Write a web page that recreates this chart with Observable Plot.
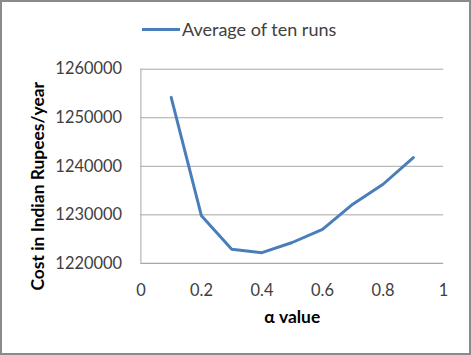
<!DOCTYPE html>
<html><head><meta charset="utf-8">
<script src="https://cdn.jsdelivr.net/npm/d3@7"></script>
<script src="https://cdn.jsdelivr.net/npm/@observablehq/plot@0.6"></script>
<style>
body{margin:0;background:#fff;}
#wrap{position:relative;width:471px;height:355px;box-sizing:border-box;border:2px solid #8a8a8a;background:#fff;overflow:hidden;font-family:Lato,"Open Sans",sans-serif;}
#chart{position:absolute;left:-2px;top:-2px;}
#legend{position:absolute;left:140px;top:16px;font-size:18px;color:#404040;display:flex;align-items:center;}
#legend span.sw{display:inline-block;width:38px;height:3px;background:#4a7ebb;margin-right:2px;}
</style></head>
<body><div id="wrap"><div id="chart"></div><div id="legend"><span class="sw"></span>Average of ten runs</div></div>
<script>
const alphaValues = [0.1,0.2,0.3,0.4,0.5,0.6,0.7,0.8,0.9];
const costValues = [1254200,1229800,1222900,1222200,1224300,1227000,1232200,1236300,1241800];
const xTicks = [0,0.2,0.4,0.6,0.8,1];
const yTicks = [1220000,1230000,1240000,1250000,1260000];
const seriesName = "Average of ten runs";
const data = alphaValues.map((a,i)=>({alpha:a,cost:costValues[i]}));
const chart = Plot.plot({
  width:471,height:355,
  marginLeft:141,marginRight:26,marginTop:69,marginBottom:91,
  style:{fontFamily:"Lato, 'Open Sans', sans-serif",fontSize:"16.5px",color:"#404040",background:"transparent"},
  x:{domain:[0,1],ticks:xTicks,tickFormat:d=>String(d),tickSize:0,tickPadding:21,label:"α value",labelAnchor:"center",labelOffset:60,labelArrow:"none"},
  y:{domain:[1220000,1260000],ticks:yTicks,tickFormat:d=>String(d),tickSize:0,tickPadding:19,label:"Cost in Indian Rupees/year",labelAnchor:"center",labelOffset:110,labelArrow:"none"},
  marks:[
    Plot.gridY(yTicks,{stroke:"#a6a6a6",strokeOpacity:1,strokeWidth:1}),
    Plot.ruleX([0],{stroke:"#a6a6a6",strokeWidth:1}),
    Plot.ruleY([1220000],{stroke:"#a6a6a6",strokeWidth:1}),
    Plot.line(data,{x:"alpha",y:"cost",stroke:"#4a7ebb",strokeWidth:3,strokeLinejoin:"round"})
  ]
});
chart.querySelectorAll("[aria-label='x-axis label'] text, [aria-label='y-axis label'] text").forEach(t=>{t.style.fontWeight="bold";t.style.fontSize="17.5px";t.style.fill="#000";});
chart.querySelectorAll("[aria-label='y-axis label'] text").forEach(t=>{t.setAttribute("dx","-20");});
document.getElementById("chart").appendChild(chart);
</script></body></html>
